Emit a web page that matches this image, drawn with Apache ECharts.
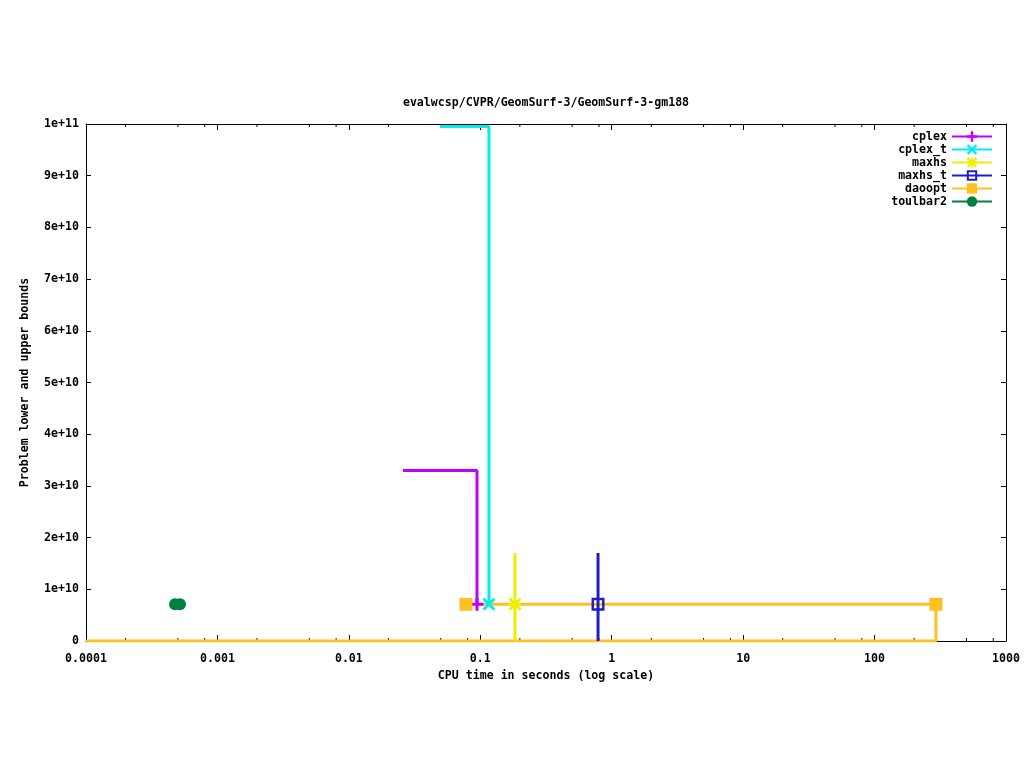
<!DOCTYPE html>
<html>
<head>
<meta charset="utf-8">
<script src="https://cdn.jsdelivr.net/npm/echarts@6/dist/echarts.min.js"></script>
<style>html,body{margin:0;padding:0;background:#fff;}#c{width:1024px;height:768px;}</style>
</head>
<body>
<div id="c"></div>
<script>
// ---- data ----
const titleText = 'evalwcsp/CVPR/GeomSurf-3/GeomSurf-3-gm188';
const xName = 'CPU time in seconds (log scale)';
const yName = 'Problem lower and upper bounds';
const legendNames = ['cplex', 'cplex_t', 'maxhs', 'maxhs_t', 'daoopt', 'toulbar2'];
const xTickValues = [0.0001, 0.001, 0.01, 0.1, 1, 10, 100, 1000];
const xMinorTicks = [0.0002, 0.0005, 0.0008, 0.002, 0.005, 0.008, 0.02, 0.05, 0.08,
                     0.2, 0.5, 0.8, 2, 5, 8, 20, 50, 80, 200, 500, 800];

// each path: [time, bound]; marked = indices that carry the point symbol
const cplex = [[0.0258, 3.3e10], [0.0944, 3.3e10], [0.0944, 7.1e9]];
const cplexMarked = [2];
const cplexT = [[0.0493, 9.95e10], [0.1164, 9.95e10], [0.1164, 7.1e9]];
const cplexTMarked = [2];
const maxhs = [[0.1836, 1.7e10], [0.1836, 7.1e9], [0.1836, 0]];
const maxhsMarked = [1];
const maxhsT = [[0.787, 1.7e10], [0.787, 7.1e9], [0.787, 0]];
const maxhsTMarked = [1];
const daooptLower = [[0.0001, 0], [293, 0], [293, 7.1e9]];
const daooptLowerMarked = [];
const daooptUpper = [[0.0778, 7.1e9], [293, 7.1e9]];
const daooptUpperMarked = [0, 1];
const toulbar2 = [[0.000476, 7.1e9], [0.000519, 7.1e9]];
const toulbar2Marked = [0, 1];

// ---- styling ----
const FONT = '"DejaVu Sans Mono", "Liberation Mono", monospace';
const FS = 11.6;
const colors = {
  cplex: '#c000ff', cplex_t: '#00eeee', maxhs: '#eeee00',
  maxhs_t: '#2020c0', daoopt: '#ffc020', toulbar2: '#008040'
};
const SYM = {
  plus: 'path://M0,5H13V8H0Z M5,0H8V13H5Z',
  cross: 'path://M0,2L2,0L13,11L11,13Z M11,0L13,2L2,13L0,11Z',
  star: 'path://M0,5.5H13V7.5H0Z M5.5,0H7.5V13H5.5Z M0,2L2,0L13,11L11,13Z M11,0L13,2L2,13L0,11Z',
  openSquare: 'path://M0,0H13V13H0Z M2.5,2.5V10.5H10.5V2.5Z',
  square: 'rect',
  circle: 'circle'
};

function mkSeries(name, pts, marked, symbol, size) {
  return {
    name: name, type: 'line', xAxisIndex: 0, yAxisIndex: 0,
    symbol: symbol, symbolSize: size, showSymbol: true,
    data: pts.map((p, i) => marked.indexOf(i) >= 0 ? {value: p} : {value: p, symbol: 'none'}),
    lineStyle: {color: colors[name], width: 3},
    itemStyle: {color: colors[name], opacity: 1},
    animation: false, silent: true, clip: true,
    emphasis: {disabled: true}
  };
}

const series = [
  mkSeries('daoopt', daooptLower, daooptLowerMarked, SYM.square, 13),
  mkSeries('cplex', cplex, cplexMarked, SYM.plus, 13),
  mkSeries('daoopt', daooptUpper, daooptUpperMarked, SYM.square, 13),
  mkSeries('cplex_t', cplexT, cplexTMarked, SYM.cross, 13),
  mkSeries('maxhs', maxhs, maxhsMarked, SYM.star, 13),
  mkSeries('maxhs_t', maxhsT, maxhsTMarked, SYM.openSquare, 13),
  mkSeries('toulbar2', toulbar2, toulbar2Marked, SYM.circle, 12),
  {
    type: 'custom', name: 'minorTicks', silent: true, animation: false,
    xAxisIndex: 0, yAxisIndex: 0, clip: false,
    data: xMinorTicks.map(v => [v, 0]),
    encode: {x: 0, y: 1},
    renderItem: function (params, api) {
      const v = api.value(0);
      const b = api.coord([v, 0]);
      const t = api.coord([v, 1e11]);
      return {
        type: 'group', children: [
          {type: 'line', shape: {x1: b[0], y1: b[1], x2: b[0], y2: b[1] - 3}, style: {stroke: '#000', lineWidth: 1}},
          {type: 'line', shape: {x1: t[0], y1: t[1], x2: t[0], y2: t[1] + 3}, style: {stroke: '#000', lineWidth: 1}}
        ]
      };
    }
  }
];

const axisLine = {show: true, onZero: false, lineStyle: {color: '#000', width: 1}};
const xLabelFmt = v => String(Number(Number(v).toPrecision(3)));
const yLabelFmt = v => v === 0 ? '0' : Number(Number(v).toPrecision(6)).toExponential();

const option = {
  backgroundColor: '#ffffff',
  animation: false,
  grid: {left: 86, right: 18, top: 124, bottom: 127, containLabel: false, outerBoundsMode: 'none'},
  graphic: {elements: [{
    type: 'text', x: 546, y: 103, silent: true,
    style: {text: titleText, fontFamily: FONT, fontSize: FS, fontWeight: 'bold', fill: '#000', align: 'center', verticalAlign: 'middle'}
  }]},
  legend: {
    data: legendNames, orient: 'vertical', align: 'right',
    right: 31, top: 130, padding: 0, itemWidth: 40, itemHeight: 13, itemGap: 0,
    selectedMode: false,
    textStyle: {fontFamily: FONT, fontSize: FS, fontWeight: 'bold', color: '#000', lineHeight: 13}
  },
  xAxis: [{
    type: 'log', logBase: 10, min: 0.0001, max: 1000, splitNumber: 7,
    name: xName, nameLocation: 'middle', nameGap: 27,
    nameTextStyle: {fontFamily: FONT, fontSize: FS, fontWeight: 'bold', color: '#000'},
    axisLine: axisLine,
    axisTick: {show: true, inside: true, length: 6, lineStyle: {color: '#000'}},
    axisLabel: {formatter: xLabelFmt, margin: 12, lineHeight: 12, fontFamily: FONT, fontSize: FS, fontWeight: 'bold', color: '#000'},
    splitLine: {show: false}, minorTick: {show: false}
  }, {
    type: 'log', logBase: 10, min: 0.0001, max: 1000, splitNumber: 7, position: 'top',
    axisLine: axisLine,
    axisTick: {show: true, inside: true, length: 6, lineStyle: {color: '#000'}},
    axisLabel: {show: false}, splitLine: {show: false}
  }],
  yAxis: [{
    type: 'value', min: 0, max: 1e11, interval: 1e10,
    name: yName, nameLocation: 'middle', nameGap: 55, nameRotate: 90,
    nameTextStyle: {fontFamily: FONT, fontSize: FS, fontWeight: 'bold', color: '#000'},
    axisLine: axisLine,
    axisTick: {show: true, inside: true, length: 5, lineStyle: {color: '#000'}},
    axisLabel: {formatter: yLabelFmt, margin: 7, fontFamily: FONT, fontSize: FS, fontWeight: 'bold', color: '#000'},
    splitLine: {show: false}
  }, {
    type: 'value', min: 0, max: 1e11, interval: 1e10, position: 'right',
    axisLine: axisLine,
    axisTick: {show: true, inside: true, length: 5, lineStyle: {color: '#000'}},
    axisLabel: {show: false}, splitLine: {show: false}
  }],
  series: series
};

const chart = echarts.init(document.getElementById('c'), null, {renderer: 'canvas'});
chart.setOption(option);
</script>
</body>
</html>
